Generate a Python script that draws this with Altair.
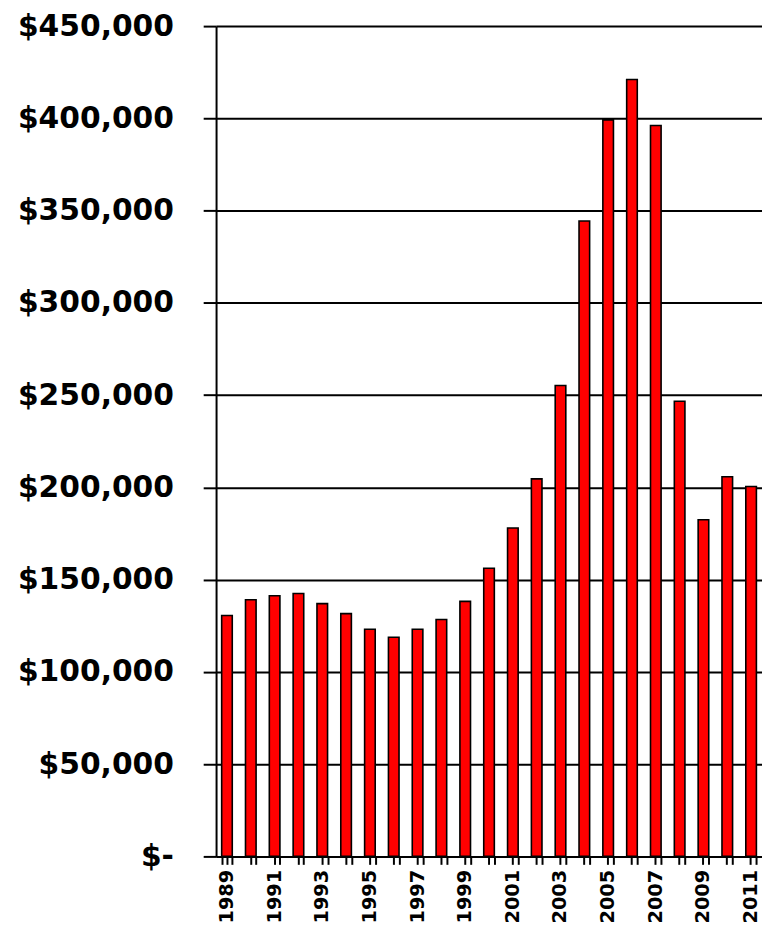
import altair as alt
import pandas as pd

years = ["1989", "1990", "1991", "1992", "1993", "1994", "1995", "1996",
         "1997", "1998", "1999", "2000", "2001", "2002", "2003", "2004",
         "2005", "2006", "2007", "2008", "2009", "2010", "2011"]
prices = [130600, 139100, 141300, 142500, 137000, 131600, 123100, 118800,
          123100, 128400, 138200, 156200, 178000, 204600, 255200, 344400,
          399200, 421100, 396100, 246700, 182500, 205800, 200500]
y_ticks = [0, 50000, 100000, 150000, 200000, 250000, 300000, 350000, 400000, 450000]

df = pd.DataFrame({"year": years, "price": prices})

FONT = "DejaVu Sans"
x_scale = alt.Scale(paddingInner=0.555, paddingOuter=0.235)
y_scale = alt.Scale(domain=[0, 450000], nice=False)

bars = alt.Chart(df).mark_bar(color="#FF0000", stroke="black", strokeWidth=1.6).encode(
    x=alt.X("year:O", scale=x_scale, sort=None,
            axis=alt.Axis(title=None, orient="bottom", labelAngle=270, tickSize=8, tickWidth=2,
                          tickColor="black", domainColor="black", domainWidth=2,
                          labelExpr="toNumber(datum.value) % 2 == 1 ? datum.label : ''",
                          labelFont=FONT, labelFontSize=19.5, labelFontWeight="bold",
                          labelColor="black", labelPadding=5, labelOverlap=False,
                          labelBound=False, grid=False)),
    y=alt.Y("price:Q", scale=y_scale,
            axis=alt.Axis(title=None, orient="left", values=y_ticks, grid=True, gridColor="black",
                          gridWidth=2, gridOpacity=1, tickSize=13, tickWidth=2,
                          tickColor="black", domainColor="black", domainWidth=2,
                          labelExpr="datum.value == 0 ? '$-' : '$' + format(datum.value, ',')",
                          labelFont=FONT, labelFontSize=30, labelFontWeight="bold",
                          labelAlign="right", labelBaseline="middle",
                          labelColor="black", labelPadding=30, labelOverlap=False,
                          labelBound=False)),
)

boundary_ticks = alt.Chart(df).mark_bar(opacity=0).encode(
    x=alt.X("year:O", scale=x_scale, sort=None,
            axis=alt.Axis(title=None, orient="bottom", labels=False, domain=False, grid=False,
                          tickBand="extent", tickSize=8, tickWidth=2, tickColor="black")),
)

chart = alt.layer(bars, boundary_ticks).resolve_axis(x="independent").properties(
    width=551,
    height=838,
    autosize=alt.AutoSizeParams(type="none"),
    padding={"left": 210, "top": 14, "right": 0, "bottom": 69},
).configure_view(stroke=None)

chart.save("out.html", embed_options={"renderer": "svg", "actions": False})
